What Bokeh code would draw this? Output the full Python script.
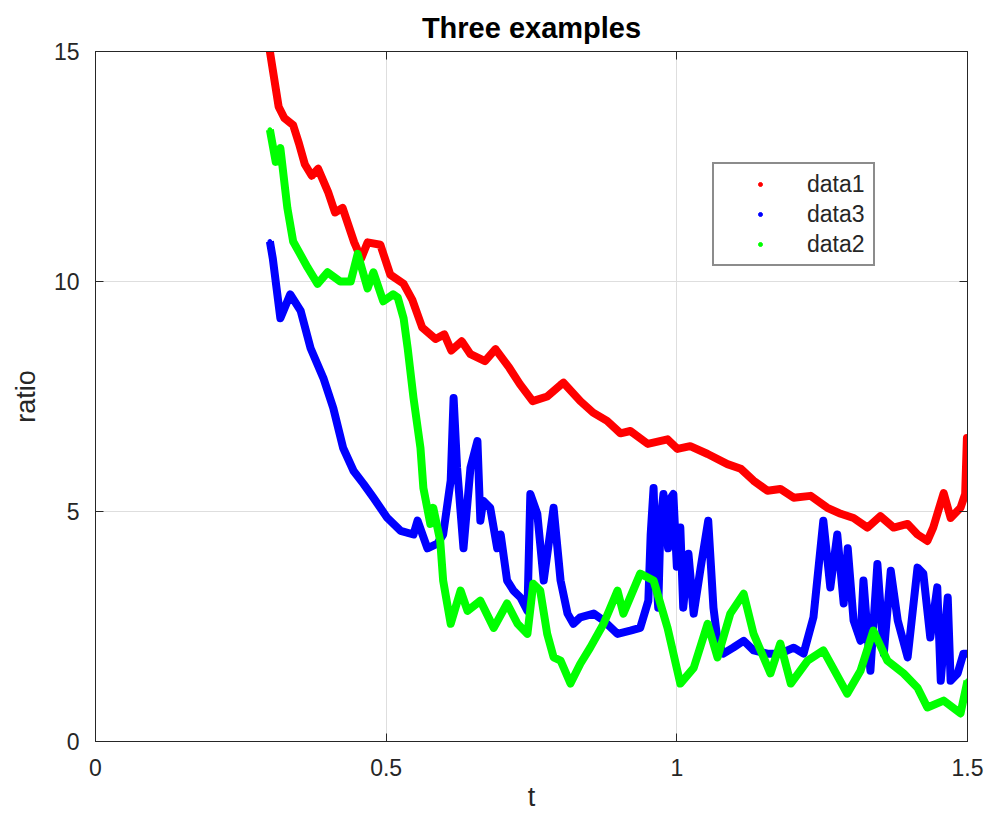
from bokeh.plotting import figure
from bokeh.models import Range1d, LinearAxis, FixedTicker, Legend, LegendItem
from bokeh.embed import file_html
from bokeh.resources import INLINE

# ---------------- data ----------------
x_ticks = [0, 0.5, 1, 1.5]
x_tick_labels = ["0", "0.5", "1", "1.5"]
y_ticks = [0, 5, 10, 15]
y_tick_labels = ["0", "5", "10", "15"]

red_t = [0.300, 0.305, 0.315, 0.325, 0.340, 0.350, 0.360, 0.372, 0.383, 0.400,
         0.412, 0.425, 0.445, 0.457, 0.468, 0.490, 0.507, 0.530, 0.545, 0.562,
         0.585, 0.600, 0.612, 0.630, 0.645, 0.670, 0.688, 0.712, 0.730, 0.752,
         0.777, 0.800, 0.805, 0.834, 0.856, 0.880, 0.903, 0.920, 0.950, 0.984,
         1.001, 1.023, 1.053, 1.087, 1.110, 1.132, 1.156, 1.178, 1.201, 1.230,
         1.259, 1.282, 1.304, 1.328, 1.350, 1.373, 1.397, 1.414, 1.431, 1.441,
         1.459, 1.471, 1.488, 1.496, 1.499, 1.500]
red_v = [15.0, 14.6, 13.8, 13.55, 13.4, 13.0, 12.55, 12.3, 12.45, 11.95,
         11.5, 11.6, 10.85, 10.5, 10.85, 10.8, 10.15, 9.95, 9.6, 9.0,
         8.75, 8.85, 8.5, 8.7, 8.42, 8.27, 8.53, 8.12, 7.77, 7.4,
         7.5, 7.75, 7.8, 7.4, 7.15, 6.97, 6.7, 6.75, 6.47, 6.57,
         6.36, 6.42, 6.25, 6.03, 5.93, 5.67, 5.45, 5.49, 5.3, 5.34,
         5.08, 4.95, 4.86, 4.65, 4.9, 4.65, 4.73, 4.5, 4.36, 4.65,
         5.4, 4.86, 5.08, 5.38, 6.6, 6.1]

green_t = [0.300, 0.310, 0.318, 0.330, 0.340, 0.365, 0.382, 0.399, 0.421, 0.439,
           0.451, 0.468, 0.478, 0.495, 0.512, 0.520, 0.530, 0.537, 0.547, 0.559,
           0.564, 0.576, 0.581, 0.593, 0.598, 0.611, 0.628, 0.640, 0.662, 0.685,
           0.708, 0.726, 0.743, 0.753, 0.765, 0.777, 0.788, 0.800, 0.817, 0.834,
           0.851, 0.874, 0.898, 0.908, 0.937, 0.960, 0.984, 1.006, 1.029, 1.053,
           1.070, 1.092, 1.115, 1.132, 1.161, 1.178, 1.196, 1.225, 1.252, 1.293,
           1.316, 1.338, 1.362, 1.390, 1.414, 1.431, 1.459, 1.488, 1.500]
green_v = [13.3, 12.6, 12.9, 11.6, 10.87, 10.3, 9.95, 10.2, 10.0, 10.0,
           10.6, 9.85, 10.2, 9.57, 9.72, 9.65, 9.2, 8.55, 7.47, 6.38,
           5.51, 4.73, 5.08, 4.36, 3.5, 2.56, 3.28, 2.84, 3.06, 2.47,
           3.0, 2.56, 2.34, 3.43, 3.28, 2.34, 1.83, 1.76, 1.26, 1.69,
           2.04, 2.56, 3.28, 2.78, 3.65, 3.5, 2.47, 1.26, 1.6, 2.56,
           1.83, 2.78, 3.21, 2.34, 1.48, 2.13, 1.26, 1.76, 1.98, 1.04,
           1.54, 2.41, 1.76, 1.48, 1.17, 0.74, 0.89, 0.61, 1.32]

blue_t = [0.300, 0.305, 0.318, 0.335, 0.353, 0.370, 0.392, 0.409, 0.426, 0.444,
          0.461, 0.478, 0.502, 0.525, 0.547, 0.554, 0.571, 0.588, 0.598, 0.611,
          0.616, 0.622, 0.633, 0.645, 0.657, 0.662, 0.667, 0.679, 0.691, 0.697,
          0.708, 0.719, 0.731, 0.743, 0.748, 0.760, 0.771, 0.788, 0.800, 0.812,
          0.822, 0.834, 0.857, 0.874, 0.898, 0.920, 0.937, 0.951, 0.955, 0.960,
          0.965, 0.968, 0.972, 0.977, 0.985, 0.990, 0.994, 1.000, 1.006, 1.011,
          1.020, 1.029, 1.041, 1.054, 1.063, 1.070, 1.080, 1.097, 1.115, 1.132,
          1.156, 1.178, 1.201, 1.218, 1.235, 1.252, 1.264, 1.276, 1.287, 1.294,
          1.304, 1.316, 1.321, 1.333, 1.345, 1.356, 1.368, 1.380, 1.397, 1.414,
          1.424, 1.436, 1.448, 1.454, 1.466, 1.471, 1.483, 1.493, 1.500]
blue_v = [10.87, 10.5, 9.2, 9.72, 9.36, 8.55, 7.9, 7.25, 6.38, 5.88,
          5.6, 5.3, 4.86, 4.58, 4.5, 4.8, 4.2, 4.3, 4.5, 5.67,
          7.47, 5.95, 4.2, 5.95, 6.53, 4.8, 5.23, 5.08, 4.2, 4.5,
          3.5, 3.28, 3.13, 2.84, 5.38, 4.95, 3.5, 5.08, 3.5, 2.78,
          2.56, 2.7, 2.78, 2.63, 2.34, 2.41, 2.47, 3.06, 4.5, 5.51,
          3.5, 2.91, 4.8, 5.38, 4.2, 5.3, 5.38, 3.8, 4.65, 2.91,
          4.08, 2.78, 3.78, 4.8, 2.91, 2.19, 1.91, 2.04, 2.19, 1.98,
          1.91, 1.91, 2.04, 1.91, 2.7, 4.8, 3.35, 4.5, 3.0, 4.2,
          2.63, 2.19, 3.5, 1.54, 3.86, 1.91, 3.71, 2.63, 1.83, 3.78,
          3.65, 2.26, 3.35, 1.32, 3.13, 1.32, 1.48, 1.91, 1.91]

series_names = ["data1", "data3", "data2"]

# ---------------- styling ----------------
FONT = "Liberation Sans"
AXIS_COLOR = "#262626"
TEXT_COLOR = "#262626"

p = figure(width=987, height=818,
           x_range=Range1d(0, 1.5), y_range=Range1d(0, 15),
           output_backend="svg", toolbar_location=None,
           min_border_left=95, min_border_right=20,
           min_border_top=51, min_border_bottom=77,
           x_axis_label="t", y_axis_label="ratio")

p.background_fill_color = "white"
p.border_fill_color = "white"
p.outline_line_color = AXIS_COLOR
p.outline_line_width = 1

p.title.text = "Three examples"
p.title.align = "center"
p.title.text_font = FONT
p.title.text_font_size = "29px"
p.title.text_font_style = "bold"
p.title.text_color = "#000000"
p.title.standoff = 15

tick_overrides_x = {t: s for t, s in zip(x_ticks, x_tick_labels)}
tick_overrides_y = {t: s for t, s in zip(y_ticks, y_tick_labels)}

for ax in p.xaxis:
    ax.ticker = FixedTicker(ticks=x_ticks)
    ax.major_label_overrides = tick_overrides_x
for ax in p.yaxis:
    ax.ticker = FixedTicker(ticks=y_ticks)
    ax.major_label_overrides = tick_overrides_y

for ax in list(p.xaxis) + list(p.yaxis):
    ax.axis_line_color = AXIS_COLOR
    ax.major_tick_line_color = AXIS_COLOR
    ax.major_tick_in = 8
    ax.major_tick_out = 0
    ax.minor_tick_line_color = None
    ax.major_label_text_font = FONT
    ax.major_label_text_font_size = "23px"
    ax.major_label_text_color = TEXT_COLOR
    ax.axis_label_text_font = FONT
    ax.axis_label_text_font_size = "27px"
    ax.axis_label_text_font_style = "normal"
    ax.axis_label_text_color = TEXT_COLOR

p.xaxis.major_label_standoff = 17
p.yaxis.major_label_standoff = 16
p.xaxis.axis_label_standoff = 3
p.yaxis.axis_label_standoff = 10

# box ticks on top and right (tick marks only, labels not drawn)
top_ax = LinearAxis(ticker=FixedTicker(ticks=x_ticks),
                    major_label_text_color=None, major_label_text_font_size="8px",
                    major_tick_in=8, major_tick_out=0, minor_tick_line_color=None,
                    axis_line_color=AXIS_COLOR, major_tick_line_color=AXIS_COLOR,
                    major_label_standoff=0)
right_ax = LinearAxis(ticker=FixedTicker(ticks=y_ticks),
                      major_label_text_color=None, major_label_text_font_size="8px",
                      major_tick_in=8, major_tick_out=0, minor_tick_line_color=None,
                      axis_line_color=AXIS_COLOR, major_tick_line_color=AXIS_COLOR,
                      major_label_standoff=0)
p.add_layout(top_ax, "above")
p.add_layout(right_ax, "right")

for g in (p.xgrid, p.ygrid):
    g.grid_line_color = "#dedede"
    g.grid_line_width = 1
p.xgrid.ticker = FixedTicker(ticks=x_ticks)
p.ygrid.ticker = FixedTicker(ticks=y_ticks)

# ---------------- data marks ----------------
RED, BLUE, GREEN = "#ff0000", "#0000ff", "#00ff00"
LW = 8

r_dot = p.scatter(red_t, red_v, size=4, color=RED)
b_dot = p.scatter(blue_t, blue_v, size=4, color=BLUE)
g_dot = p.scatter(green_t, green_v, size=4, color=GREEN)

p.line(red_t, red_v, line_width=LW, line_color=RED, line_join="round")
p.line(blue_t, blue_v, line_width=LW, line_color=BLUE, line_join="round")
p.line(green_t, green_v, line_width=LW, line_color=GREEN, line_join="round")

legend = Legend(items=[LegendItem(label=series_names[0], renderers=[r_dot]),
                       LegendItem(label=series_names[1], renderers=[b_dot]),
                       LegendItem(label=series_names[2], renderers=[g_dot])],
                location=(617, 475))
legend.label_text_font = FONT
legend.label_text_font_size = "23px"
legend.label_text_color = TEXT_COLOR
legend.label_height = 30
legend.label_width = 61
legend.glyph_height = 10
legend.glyph_width = 82
legend.label_standoff = 6
legend.spacing = 0
legend.padding = 5
legend.margin = 0
legend.border_line_color = "#1a1a1a"
legend.border_line_width = 2
legend.background_fill_color = "white"
legend.background_fill_alpha = 1
p.add_layout(legend, "center")

open("out.html", "w").write(file_html(p, INLINE))
